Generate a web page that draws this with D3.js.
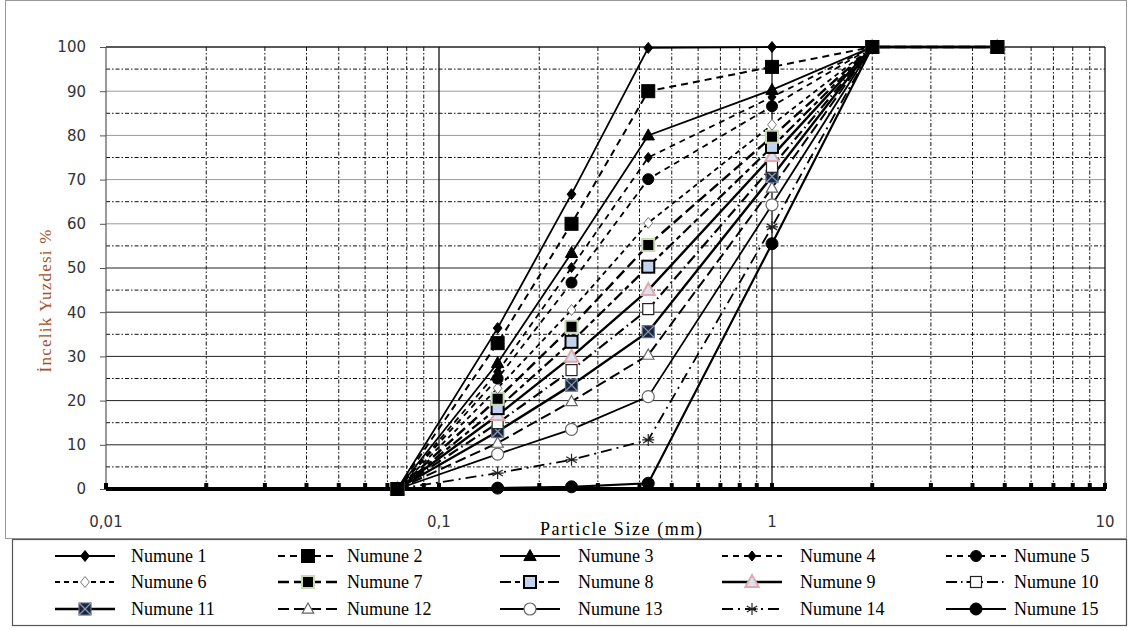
<!DOCTYPE html>
<html><head><meta charset="utf-8">
<script src="https://cdn.jsdelivr.net/npm/d3@7"></script>
<style>body{margin:0;background:#fff}</style>
</head><body>
<svg id="chart" width="1131" height="630"></svg>
<script>
// Sieve openings (mm) and percent passing for each sample
const sieveSizes = [0.075, 0.15, 0.25, 0.425, 1, 2, 4.75];
const numune1  = [0, 36.4, 66.7, 99.8, 100, 100, 100];
const numune2  = [0, 33.0, 60.0, 90.0, 95.5, 100, 100];
const numune3  = [0, 28.5, 53.4, 80.0, 90.3, 100, 100];
const numune4  = [0, 26.5, 50.1, 75.0, 88.7, 100, 100];
const numune5  = [0, 25.0, 46.7, 70.1, 86.6, 100, 100];
const numune6  = [0, 22.8, 40.5, 60.2, 82.4, 100, 100];
const numune7  = [0, 20.4, 36.7, 55.2, 79.7, 100, 100];
const numune8  = [0, 18.3, 33.3, 50.3, 77.4, 100, 100];
const numune9  = [0, 16.7, 29.9, 45.0, 75.3, 100, 100];
const numune10 = [0, 14.9, 26.9, 40.7, 72.9, 100, 100];
const numune11 = [0, 13.0, 23.5, 35.6, 70.7, 100, 100];
const numune12 = [0, 10.4, 19.8, 30.3, 68.1, 100, 100];
const numune13 = [0, 7.9, 13.5, 20.9, 64.3, 100, 100];
const numune14 = [0, 3.6, 6.6, 11.1, 59.3, 100, 100];
const numune15 = [0, 0.2, 0.5, 1.3, 55.5, 100, 100];
const seriesNames = ["Numune 1","Numune 2","Numune 3","Numune 4","Numune 5",
  "Numune 6","Numune 7","Numune 8","Numune 9","Numune 10",
  "Numune 11","Numune 12","Numune 13","Numune 14","Numune 15"];
const seriesValues = [numune1, numune2, numune3, numune4, numune5, numune6, numune7,
  numune8, numune9, numune10, numune11, numune12, numune13, numune14, numune15];
const yTickValues = [0, 10, 20, 30, 40, 50, 60, 70, 80, 90, 100];
const xTickValues = [0.01, 0.1, 1, 10];
const xTickLabels = ["0,01", "0,1", "1", "10"];

// Line and marker styling per sample
const styles = [
  {dash: null, w: 1.8, m: "diamond", r: 5.5, fill: "#000", stroke: "#000"},
  {dash: "7,5", w: 2, m: "square", r: 6.5, fill: "#000", stroke: "#000"},
  {dash: null, w: 1.8, m: "triangle", r: 6.5, fill: "#000", stroke: "#000"},
  {dash: "6,5", w: 1.8, m: "diamond", r: 5, fill: "#000", stroke: "#000"},
  {dash: "6,5", w: 1.8, m: "circle", r: 5.5, fill: "#000", stroke: "#000"},
  {dash: "5,4", w: 1.8, m: "diamond", r: 5.5, fill: "#fff", stroke: "#777"},
  {dash: "11,5", w: 2.4, m: "square", r: 6, fill: "#000", stroke: "#c9d9b4", sw: 2},
  {dash: "11,4,5,4", w: 2.2, m: "square", r: 6, fill: "#c3d3ee", stroke: "#000", sw: 2},
  {dash: null, w: 2.4, m: "triangle", r: 7, fill: "#d8e2f2", stroke: "#e2aaaa", sw: 2},
  {dash: "11,4,1.5,4", w: 2.2, m: "square", r: 5.5, fill: "#fff", stroke: "#222", sw: 1.2},
  {dash: null, w: 2.4, m: "xsquare", r: 6, fill: "#1c2438", stroke: "#5b6b8c", sw: 1.2},
  {dash: "11,5", w: 2, m: "triangle", r: 6, fill: "#fff", stroke: "#666", sw: 1.2},
  {dash: null, w: 1.8, m: "circle", r: 6, fill: "#fff", stroke: "#666", sw: 1.2},
  {dash: "11,5,2,5", w: 1.8, m: "asterisk", r: 6, fill: "none", stroke: "#222", sw: 1.2},
  {dash: null, w: 2.2, m: "circle", r: 6, fill: "#000", stroke: "#000"}
];

const svg = d3.select("#chart");
const plot = {left: 106, right: 1105, top: 47, bottom: 489};

const x = d3.scaleLog().domain([0.01, 10]).range([plot.left, plot.right]);
const y = d3.scaleLinear().domain([0, 100]).range([plot.bottom, plot.top]);

// Outer frame of chart area and legend box
svg.append("rect").attr("x", 5.5).attr("y", 0.5).attr("width", 1121).attr("height", 538)
  .attr("fill", "none").attr("stroke", "#999").attr("stroke-width", 1);
svg.append("rect").attr("x", 12.5).attr("y", 539.5).attr("width", 1114).attr("height", 86)
  .attr("fill", "#fff").attr("stroke", "#555").attr("stroke-width", 1.2);

// Horizontal grid: major (solid) and half-steps (dash-dot)
const gridG = svg.append("g");
const minorY = d3.range(5, 100, 10);
gridG.selectAll(".hmin").data(minorY).join("line")
  .attr("x1", plot.left).attr("x2", plot.right)
  .attr("y1", d => y(d)).attr("y2", d => y(d))
  .attr("stroke", "#111").attr("stroke-width", 1).attr("stroke-dasharray", "4,2,1.5,2");
gridG.selectAll(".hmaj").data(yTickValues.filter(d => d > 0)).join("line")
  .attr("x1", plot.left).attr("x2", plot.right)
  .attr("y1", d => y(d)).attr("y2", d => y(d))
  .attr("stroke", d => d >= 60 && d < 100 ? "#9a9a9a" : "#222").attr("stroke-width", d => d === 100 ? 1.3 : 1);

// Vertical grid: 2..9 within each decade dash-dot, decades solid
const minorX = [];
[0.01, 0.1, 1].forEach(dec => { for (let k = 2; k <= 9; k++) minorX.push(k * dec); });
gridG.selectAll(".vmin").data(minorX).join("line")
  .attr("x1", d => x(d)).attr("x2", d => x(d))
  .attr("y1", plot.top).attr("y2", plot.bottom)
  .attr("stroke", "#111").attr("stroke-width", 1).attr("stroke-dasharray", "4,2,1.5,2");
gridG.selectAll(".vmaj").data(xTickValues).join("line")
  .attr("x1", d => x(d)).attr("x2", d => x(d))
  .attr("y1", plot.top).attr("y2", plot.bottom)
  .attr("stroke", d => d === 0.01 ? "#555" : "#111").attr("stroke-width", d => d === 0.01 ? 1.2 : 1.3);

// Y axis
const yAxis = d3.axisLeft(y).tickValues(yTickValues).tickSize(6).tickPadding(14).tickFormat(d3.format("d"));
const yg = svg.append("g").attr("transform", `translate(${plot.left},0)`).call(yAxis);
yg.select(".domain").remove();
yg.selectAll(".tick line").attr("stroke", "#555");
yg.selectAll(".tick text").attr("font-family", "DejaVu Sans").attr("font-size", 15).attr("fill", "#333");

// X axis: heavy baseline with small inward ticks at each gridline
const xg = svg.append("g").attr("transform", `translate(0,${plot.bottom})`)
  .call(d3.axisBottom(x).tickValues(xTickValues.concat(minorX)).tickSize(0).tickFormat(""));
xg.select(".domain").remove();
svg.append("line").attr("x1", plot.left).attr("x2", plot.right + 1)
  .attr("y1", plot.bottom).attr("y2", plot.bottom)
  .attr("stroke", "#000").attr("stroke-width", 4);
svg.append("g").selectAll("rect").data(xTickValues.concat(minorX)).join("rect")
  .attr("x", d => x(d) - 2).attr("y", plot.bottom - 6).attr("width", 4).attr("height", 6).attr("fill", "#000");
svg.append("g").selectAll("text").data(xTickValues).join("text")
  .attr("x", d => x(d)).attr("y", 527)
  .attr("text-anchor", "middle").attr("font-family", "DejaVu Sans").attr("font-size", 15).attr("fill", "#333")
  .text((d, i) => xTickLabels[i]);

// Axis titles
svg.append("text").attr("x", 621).attr("y", 535).attr("text-anchor", "middle")
  .attr("font-family", "Liberation Serif").attr("font-size", 18).attr("fill", "#000")
  .attr("textLength", 162).attr("lengthAdjust", "spacing")
  .text("Particle Size  (mm)");
svg.append("text").attr("transform", "translate(51,301) rotate(-90)").attr("text-anchor", "middle")
  .attr("font-family", "Liberation Serif").attr("font-size", 17).attr("fill", "#a0522d")
  .attr("textLength", 143).attr("lengthAdjust", "spacing")
  .text("İncelik Yuzdesi %");

// Marker drawing
function drawMarker(g, st, cx, cy) {
  const r = st.r, sw = st.sw || 1;
  const common = sel => sel.attr("fill", st.fill).attr("stroke", st.stroke).attr("stroke-width", sw);
  if (st.m === "circle") {
    common(g.append("circle").attr("cx", cx).attr("cy", cy).attr("r", r));
  } else if (st.m === "square" || st.m === "xsquare") {
    common(g.append("rect").attr("x", cx - r).attr("y", cy - r).attr("width", 2 * r).attr("height", 2 * r));
    if (st.m === "xsquare") {
      g.append("path").attr("d", `M${cx - r},${cy - r}L${cx + r},${cy + r}M${cx + r},${cy - r}L${cx - r},${cy + r}`)
        .attr("stroke", "#8a9ab8").attr("stroke-width", 1.3);
    }
  } else if (st.m === "diamond") {
    common(g.append("path").attr("d", `M${cx},${cy - r}L${cx + r * 0.8},${cy}L${cx},${cy + r}L${cx - r * 0.8},${cy}Z`));
  } else if (st.m === "triangle") {
    common(g.append("path").attr("d", `M${cx},${cy - r}L${cx + r * 0.95},${cy + r * 0.7}L${cx - r * 0.95},${cy + r * 0.7}Z`));
  } else if (st.m === "asterisk") {
    let d = "";
    for (let k = 0; k < 3; k++) {
      const a = Math.PI / 2 + k * Math.PI / 3;
      d += `M${cx + r * Math.cos(a)},${cy + r * Math.sin(a)}L${cx - r * Math.cos(a)},${cy - r * Math.sin(a)}`;
    }
    d += `M${cx - r},${cy}L${cx + r},${cy}`;
    g.append("path").attr("d", d).attr("stroke", st.stroke).attr("stroke-width", sw).attr("fill", "none");
  }
}

// Series curves, drawn last-to-first so the finest samples sit on top
const line = d3.line().x(d => x(d[0])).y(d => y(d[1]));
const seriesG = svg.append("g");
for (let i = seriesValues.length - 1; i >= 0; i--) {
  const st = styles[i];
  const pts = sieveSizes.map((s, j) => [s, seriesValues[i][j]]);
  seriesG.append("path").datum(pts).attr("d", line)
    .attr("fill", "none").attr("stroke", "#000").attr("stroke-width", st.w)
    .attr("stroke-dasharray", st.dash);
}
for (let i = seriesValues.length - 1; i >= 0; i--) {
  const g = seriesG.append("g");
  sieveSizes.forEach((s, j) => drawMarker(g, styles[i], x(s), y(seriesValues[i][j])));
}

// Legend: 5 columns x 3 rows
const legCols = [{lx: 55, tx: 131}, {lx: 278, tx: 347}, {lx: 500, tx: 578}, {lx: 722, tx: 800}, {lx: 946, tx: 1014}];
const legRows = [556, 582, 609];
const legG = svg.append("g");
seriesNames.forEach((name, i) => {
  const c = legCols[i % 5], ry = legRows[Math.floor(i / 5)];
  const st = styles[i];
  legG.append("line").attr("x1", c.lx).attr("x2", c.lx + 60).attr("y1", ry).attr("y2", ry)
    .attr("stroke", "#000").attr("stroke-width", st.w).attr("stroke-dasharray", st.dash);
  drawMarker(legG, st, c.lx + 30, ry);
  legG.append("text").attr("x", c.tx).attr("y", ry + 6)
    .attr("font-family", "Liberation Serif").attr("font-size", 18).attr("fill", "#000")
    .text(name);
});
</script>
</body></html>
